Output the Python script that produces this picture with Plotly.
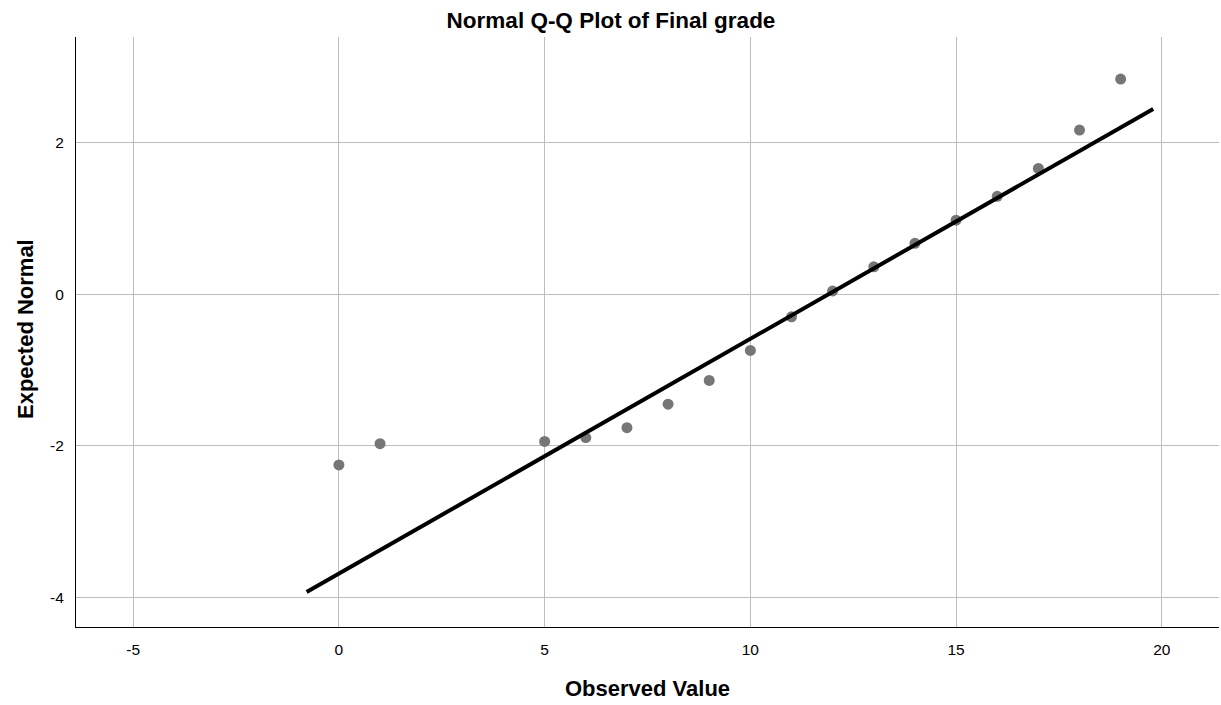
import plotly.graph_objects as go

observed = [0, 1, 5, 6, 7, 8, 9, 10, 11, 12, 13, 14, 15, 16, 17, 18, 19]
expected = [-2.25, -1.97, -1.94, -1.89, -1.76, -1.45, -1.137, -0.742, -0.299,
            0.043, 0.36, 0.67, 0.975, 1.29, 1.657, 2.163, 2.835]

line_x = [-0.785, 19.79]
line_y = [-3.925, 2.44]

x_ticks = [-5, 0, 5, 10, 15, 20]
x_ticklabels = ["-5", "0", "5", "10", "15", "20"]
y_ticks = [-4, -2, 0, 2]
y_ticklabels = ["-4", "-2", "0", "2"]

fig = go.Figure()
fig.add_trace(go.Scatter(x=observed, y=expected, mode="markers",
                         marker=dict(size=11, color="rgb(118,118,118)"),
                         showlegend=False, hoverinfo="x+y"))
fig.add_trace(go.Scatter(x=line_x, y=line_y, mode="lines",
                         line=dict(color="black", width=4),
                         showlegend=False, hoverinfo="skip"))

font = "Liberation Sans, Arial, sans-serif"
fig.update_layout(
    width=1221, height=705,
    margin=dict(l=76, r=2, t=37, b=78),
    paper_bgcolor="white", plot_bgcolor="white",
    font=dict(family=font, color="black", size=15),
    title=dict(text="<b>Normal Q-Q Plot of Final grade</b>", x=611 / 1221,
               xref="container", xanchor="center", y=1 - 20.5 / 705,
               yref="container", yanchor="middle",
               font=dict(size=22.5, family=font, color="black"), automargin=False),
    xaxis=dict(range=[-6.39, 21.39], tickvals=x_ticks, ticktext=x_ticklabels,
               showgrid=True, automargin=False,
               gridcolor="#BDBDBD", gridwidth=1, zeroline=False,
               showline=True, linecolor="black", linewidth=1, ticks="",
               tickfont=dict(size=15.5), ticklabelstandoff=8),
    yaxis=dict(range=[-4.386, 3.389], tickvals=y_ticks, ticktext=y_ticklabels,
               showgrid=True, automargin=False,
               gridcolor="#BDBDBD", gridwidth=1, zeroline=False,
               showline=True, linecolor="black", linewidth=1, ticks="",
               tickfont=dict(size=15.5), ticklabelstandoff=8),
    annotations=[
        dict(text="<b>Observed Value</b>", xref="paper", yref="paper",
             x=0.5, y=-(688 - 627) / 590, xanchor="center", yanchor="middle",
             showarrow=False, font=dict(size=22, family=font, color="black")),
        dict(text="<b>Expected Normal</b>", xref="paper", yref="paper",
             x=-(76 - 25) / 1143, y=(627 - 329) / 590, textangle=-90,
             xanchor="center", yanchor="middle",
             showarrow=False, font=dict(size=22, family=font, color="black")),
    ],
)

fig.write_html("out.html", config={"displayModeBar": False},
               post_script="document.body.style.margin='0px';document.body.style.overflow='hidden';")
